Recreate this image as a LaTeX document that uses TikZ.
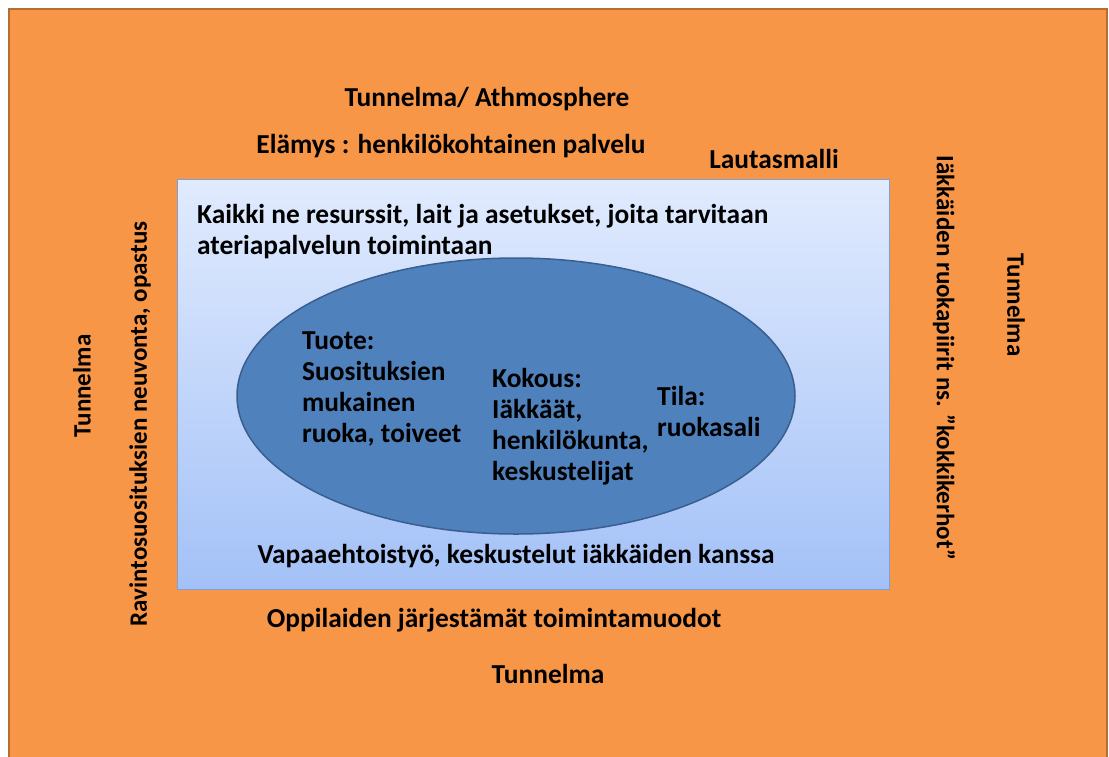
\documentclass[tikz,border=0pt]{standalone}
\usepackage{fontspec}
\setmainfont{Carlito}
\usetikzlibrary{shapes.geometric}
\definecolor{orfill}{HTML}{F79646}
\definecolor{oredge}{HTML}{B66E30}
\definecolor{boxtop}{HTML}{E1EBFE}
\definecolor{boxbot}{HTML}{A3C1F7}
\definecolor{boxedge}{HTML}{7F9ED6}
\definecolor{ellfill}{HTML}{4F81BD}
\definecolor{elledge}{HTML}{3A5F8E}
\begin{document}
\begin{tikzpicture}[x=1pt,y=-1pt,
  lbl/.style={font=\bfseries\fontsize{27.4}{30.7}\selectfont, inner sep=0pt, text=black},
  sidelbl/.style={lbl, font=\bfseries\fontsize{25}{28}\selectfont},
  ltext/.style={lbl, align=left, anchor=base west}]
\useasboundingbox (0,0) rectangle (1109,756);
\fill[white] (0,0) rectangle (1109,756);
% outer atmosphere frame
\draw[oredge, line width=2pt, fill=orfill] (9,9) rectangle (1107,780);
% resources box
\node[draw=boxedge, line width=1pt, top color=boxtop, bottom color=boxbot,
      minimum width=712pt, minimum height=410pt, anchor=north west, inner sep=0pt]
      (res) at (177,179) {};
% core ellipse
\node[ellipse, draw=elledge, line width=1.5pt, fill=ellfill,
      minimum width=558pt, minimum height=276pt, inner sep=0pt]
      (core) at (516,396) {};
% texts above the box
\node[lbl, anchor=base] (atm) at (487,106) {Tunnelma/ Athmosphere};
\node[lbl, anchor=base] (elam) at (451,153) {Elämys : henkilökohtainen palvelu};
\node[lbl, anchor=base] (laut) at (774,168) {Lautasmalli};
% texts inside the box (base anchor sits on the last line)
\node[ltext] (resurssit) at (197,254) {Kaikki ne resurssit, lait ja asetukset, joita tarvitaan\\ateriapalvelun toimintaan};
\node[ltext] (tuote) at (302,442) {Tuote:\\Suosituksien\\mukainen\\ruoka, toiveet};
\node[ltext] (kokous) at (492,480) {Kokous:\\Iäkkäät,\\henkilökunta,\\keskustelijat};
\node[ltext] (tila) at (657,436) {Tila:\\ruokasali};
\node[lbl, anchor=base] (vapaa) at (516,563) {Vapaaehtoistyö, keskustelut iäkkäiden kanssa};
% texts below the box
\node[lbl, anchor=base] (oppi) at (494,627) {Oppilaiden järjestämät toimintamuodot};
\node[lbl, anchor=base] (tunb) at (548,683) {Tunnelma};
% side texts
\node[sidelbl, rotate=90] (tunl) at (82,386) {Tunnelma};
\node[sidelbl, rotate=90] (ravi) at (140,424) {Ravintosuosituksien neuvonta, opastus};
\node[sidelbl, rotate=-90] (iakk) at (944,358) {Iäkkäiden ruokapiirit ns. ”kokkikerhot”};
\node[sidelbl, rotate=-90] (tunr) at (1016,305) {Tunnelma};
\end{tikzpicture}
\end{document}
